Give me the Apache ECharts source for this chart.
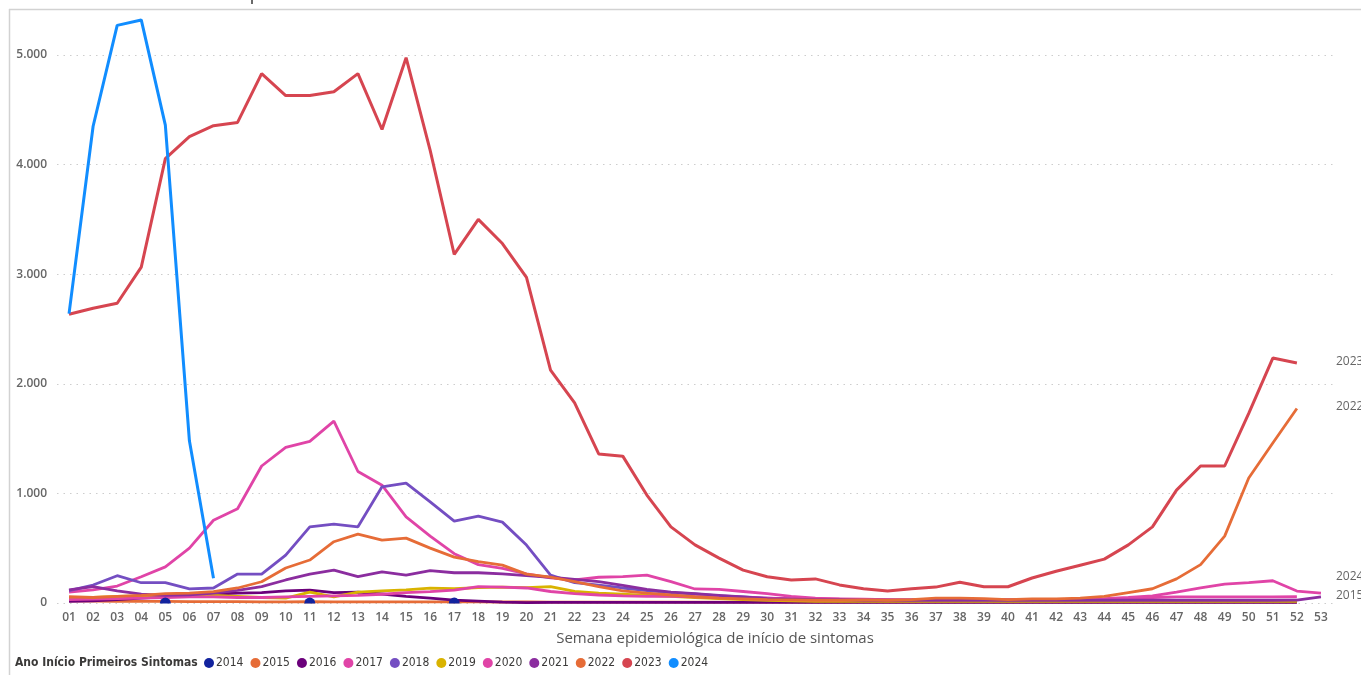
<!DOCTYPE html>
<html>
<head>
<meta charset="utf-8">
<script src="https://cdn.jsdelivr.net/npm/echarts@6/dist/echarts.min.js"></script>
<style>
  html, body { margin: 0; padding: 0; background: #fff; }
  #chart { width: 1361px; height: 675px; }
</style>
</head>
<body>
<div id="chart"></div>
<script>
// Semanas epidemiológicas 01..53
const weeks = ['01','02','03','04','05','06','07','08','09','10','11','12','13','14','15','16','17','18','19','20',
  '21','22','23','24','25','26','27','28','29','30','31','32','33','34','35','36','37','38','39','40',
  '41','42','43','44','45','46','47','48','49','50','51','52','53'];

const yearNames = ['2014','2015','2016','2017','2018','2019','2020','2021','2022','2023','2024'];

// Casos por semana, um vetor por ano de início dos sintomas
const cases2014 = [null,null,null,null,0,null,null,null,null,null,0,null,null,null,null,null,0];

const cases2015 = [20,18,16,15,14,12,12,12,11,11,12,10,10,10,10,10,10,10,9,9,
  8,8,8,8,8,8,8,8,8,8,8,8,8,8,8,8,8,8,8,8,
  8,8,8,8,8,8,8,8,8,8,8,8];

const cases2016 = [15,20,30,45,55,65,80,90,95,110,118,94,100,82,60,45,27,18,8,4,
  5,5,5,5,5,5,5,5,6,6,6,6,6,6,6,6,6,6,6,6,
  6,6,6,6,6,6,6,6,6,6,6,6];

const cases2017 = [100,120,155,240,330,500,755,860,1250,1420,1475,1660,1200,1075,785,610,450,350,315,265,
  230,210,235,240,255,195,128,125,105,85,60,45,35,30,25,25,25,25,25,25,
  25,25,25,30,40,50,55,55,55,55,55,57];

const cases2018 = [112,164,249,185,185,128,137,264,264,437,695,720,695,1060,1094,923,747,793,738,529,
  255,185,164,137,112,94,82,64,55,45,35,30,30,25,25,20,20,20,20,20,
  20,20,20,20,20,20,20,20,20,20,20,20];

const cases2019 = [45,50,60,65,65,60,70,60,50,45,100,55,100,110,120,135,130,140,145,140,
  150,105,90,80,70,60,50,40,30,25,20,15,15,15,15,15,15,15,15,15,
  15,15,15,15,15,15,15,15,15,15,15,15];

const cases2020 = [30,35,40,45,50,55,55,50,50,55,60,65,70,80,95,103,118,149,145,137,
  105,85,73,65,60,60,55,55,50,45,40,40,38,35,30,30,30,30,30,30,
  30,30,35,40,50,64,100,137,173,185,203,109,91];

const cases2021 = [120,150,110,80,70,75,90,115,150,210,264,300,240,285,255,295,276,276,265,250,
  235,215,195,160,125,100,85,70,55,40,35,30,30,25,25,25,25,25,25,25,
  25,25,25,25,25,25,25,25,25,25,25,27,55];

const cases2022 = [57,50,60,70,85,90,103,137,194,319,392,559,629,574,592,501,419,377,346,264,
  237,194,149,110,91,73,57,45,38,30,28,25,25,28,25,30,45,45,40,30,
  38,38,45,60,95,130,220,350,610,1140,1460,1775];

const cases2023 = [2635,2690,2735,3065,4055,4255,4355,4385,4830,4630,4630,4665,4830,4320,4975,4130,3180,3500,3280,2970,
  2125,1825,1360,1340,985,695,530,410,300,240,210,220,165,130,110,130,145,190,148,148,
  228,290,345,400,530,695,1030,1250,1250,1730,2235,2190];

const cases2024 = [2640,4350,5270,5320,4360,1480,225];

const yTicks = [0, 1000, 2000, 3000, 4000, 5000];

const seriesData = [cases2014, cases2015, cases2016, cases2017, cases2018, cases2019,
  cases2020, cases2021, cases2022, cases2023, cases2024];

const colors = ['#12239E','#E66C37','#6B007B','#E044A7','#744EC2','#D9B300',
  '#E044A7','#8B2D9F','#E66C37','#D64550','#118DFF'];

const narrow = "'Liberation Sans Narrow','DejaVu Sans Condensed',sans-serif";
const labelFont = "'Open Sans',sans-serif";

// half-disc marker: isolated weekly points sit on the zero baseline
const halfDisc = 'path://M0,10 A10,10 0 0 1 20,10 Z';

const chart = echarts.init(document.getElementById('chart'), null, { renderer: 'canvas' });

const series = yearNames.map((name, i) => {
  const isolated = name === '2014';
  return {
    name: name,
    type: 'line',
    data: seriesData[i],
    color: colors[i],
    clip: false,
    smooth: false,
    connectNulls: false,
    showSymbol: isolated,
    symbol: isolated ? halfDisc : 'circle',
    symbolSize: isolated ? [11, 6] : 4,
    symbolOffset: isolated ? [0, -2.5] : [0, 0],
    symbolKeepAspect: false,
    lineStyle: { width: (name === '2023' || name === '2024') ? 3 : 2.8 },
    emphasis: { disabled: true },
    z: isolated ? 30 : 2 + i
  };
});

chart.setOption({
  animation: false,
  backgroundColor: '#ffffff',
  grid: { left: 57, right: 28, top: 55, bottom: 72, containLabel: false },
  xAxis: {
    type: 'category',
    data: weeks,
    boundaryGap: true,
    axisLine: { show: false },
    axisTick: { show: false },
    axisLabel: {
      interval: 0,
      margin: 9,
      color: '#666666',
      fontFamily: labelFont,
      fontSize: 12,
      fontWeight: 600
    },
    splitLine: { show: false }
  },
  yAxis: {
    type: 'value',
    min: yTicks[0],
    max: yTicks[yTicks.length - 1],
    interval: 1000,
    axisLine: { show: false },
    axisTick: { show: false },
    axisLabel: {
      margin: 10,
      color: '#666666',
      fontFamily: labelFont,
      fontSize: 12,
      fontWeight: 600,
      formatter: v => v.toLocaleString('de-DE')
    },
    splitLine: {
      show: true,
      lineStyle: { type: [1.5, 5], color: '#cdcdcd', width: 1.2 }
    }
  },
  legend: {
    data: yearNames,
    left: 204,
    top: 657,
    icon: 'circle',
    itemWidth: 10,
    itemHeight: 10,
    itemGap: 7,
    padding: 0,
    selectedMode: false,
    textStyle: {
      color: '#3b3a39',
      fontFamily: narrow,
      fontSize: 12,
      padding: [0, 0, 0, -3]
    }
  },
  graphic: [
    { type: 'line', shape: { x1: 9, y1: 9.5, x2: 1361, y2: 9.5 }, style: { stroke: '#d2d2d2', lineWidth: 1.5 }, silent: true },
    { type: 'line', shape: { x1: 9.5, y1: 9, x2: 9.5, y2: 675 }, style: { stroke: '#d2d2d2', lineWidth: 1.5 }, silent: true },
    { type: 'rect', shape: { x: 251, y: 0, width: 2, height: 4 }, style: { fill: '#6a6a6a' }, silent: true },
    {
      type: 'text', left: 15, top: 657, silent: true,
      style: { text: 'Ano Início Primeiros Sintomas', fill: '#3b3a39', font: "bold 12px " + narrow }
    },
    {
      type: 'text', x: 715, y: 639, silent: true,
      style: { text: 'Semana epidemiológica de início de sintomas', fill: '#555555',
        font: "15px " + labelFont, align: 'center', verticalAlign: 'middle' }
    },
    { type: 'text', x: 1336, y: 362, silent: true, style: { text: '2023', fill: '#666666', font: "12px " + labelFont, verticalAlign: 'middle' } },
    { type: 'text', x: 1336, y: 407, silent: true, style: { text: '2022', fill: '#666666', font: "12px " + labelFont, verticalAlign: 'middle' } },
    { type: 'text', x: 1336, y: 577, silent: true, style: { text: '2024', fill: '#666666', font: "12px " + labelFont, verticalAlign: 'middle' } },
    { type: 'text', x: 1336, y: 596, silent: true, style: { text: '2015', fill: '#666666', font: "12px " + labelFont, verticalAlign: 'middle' } }
  ],
  series: series
});
</script>
</body>
</html>
